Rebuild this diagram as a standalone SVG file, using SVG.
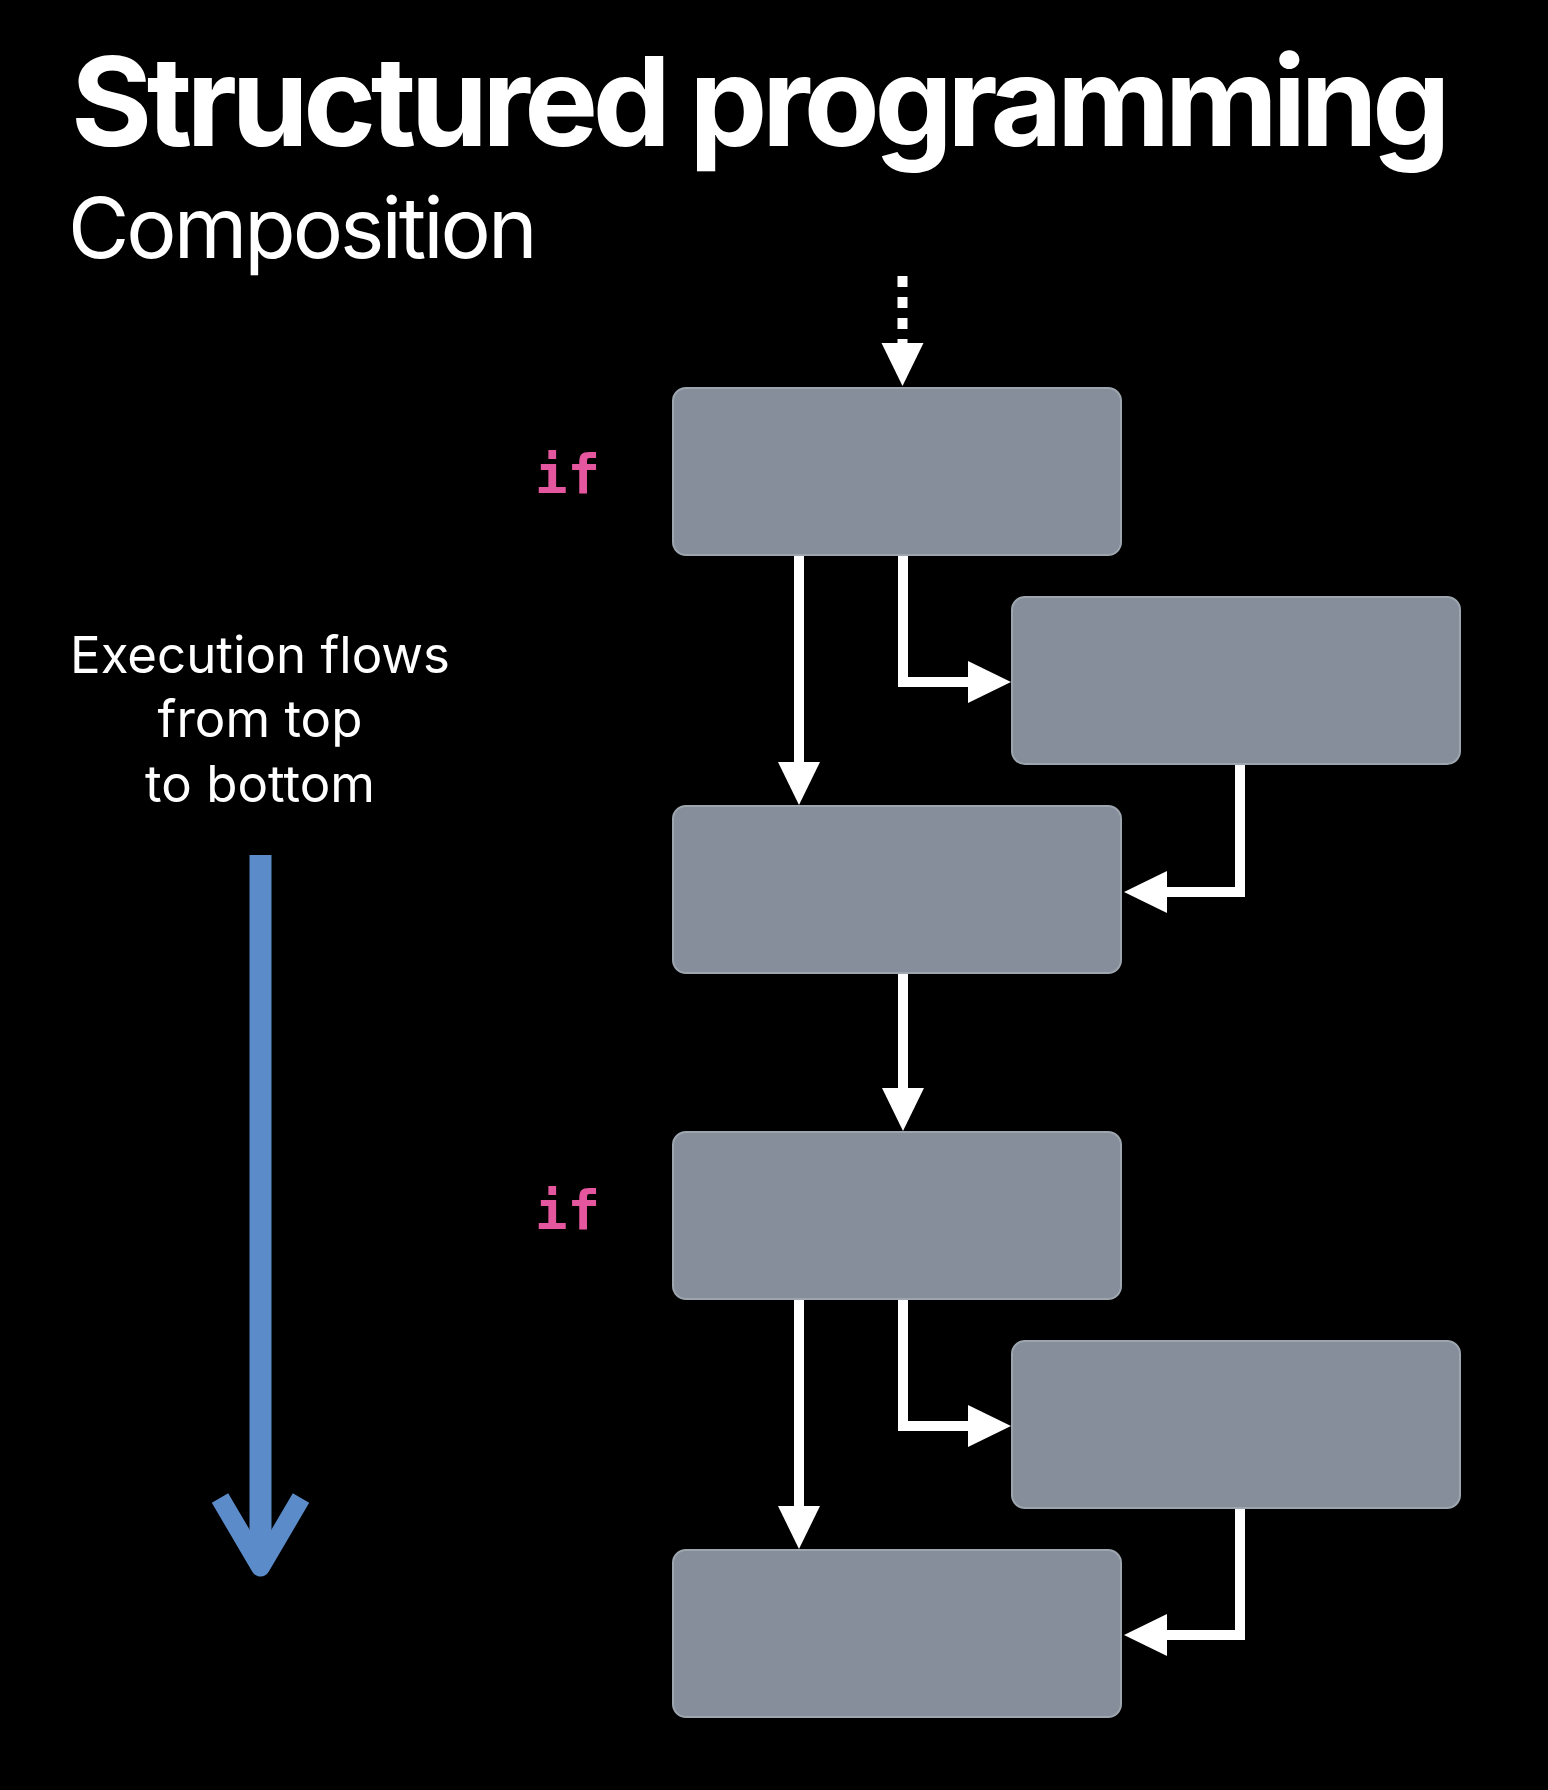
<svg xmlns="http://www.w3.org/2000/svg" width="1548" height="1790" viewBox="0 0 1548 1790">
  <style>
    .box { fill: #858e9a; stroke: #9da5af; stroke-width: 2; }
    .conn { fill: none; stroke: #ffffff; stroke-width: 10; stroke-linejoin: miter; marker-end: url(#arrow); }
    .kw { font-family: "DejaVu Sans Mono", "Liberation Mono", monospace; font-weight: bold; font-size: 54px; fill: #e4579e; }
    .note { font-family: Inter, "Liberation Sans", sans-serif; font-size: 51px; fill: #ffffff; text-anchor: middle; }
  </style>
  <defs>
    <marker id="arrow" markerUnits="userSpaceOnUse" markerWidth="44" markerHeight="44" viewBox="0 0 44 44" refX="22" refY="22" orient="auto">
      <path d="M0,1 L43,22 L0,43 Z" fill="#ffffff"/>
    </marker>
  </defs>
  <rect x="0" y="0" width="1548" height="1790" fill="#000000"/>

  <g id="title">
    <text x="71" y="146" font-family="Inter, 'Liberation Sans', sans-serif" font-weight="bold" font-size="124" fill="#ffffff" letter-spacing="-5.5">Structured programming</text>
    <text x="68" y="258" font-family="Inter, 'Liberation Sans', sans-serif" font-size="84" fill="#ffffff" letter-spacing="-3">Composition</text>
  </g>

  <g id="note">
    <text class="note" x="260" y="673">Execution flows</text>
    <text class="note" x="260" y="737">from top</text>
    <text class="note" x="260" y="802">to bottom</text>
  </g>

  <g id="flow-arrow">
    <line x1="260.5" y1="855" x2="260.5" y2="1560" stroke="#5b8bc8" stroke-width="22"/>
    <polyline points="220,1498 260.5,1567 301,1498" fill="none" stroke="#5b8bc8" stroke-width="19" stroke-linejoin="round" stroke-linecap="butt"/>
  </g>

  <g id="if1"><text class="kw" x="535" y="493">if</text></g>
  <g id="if2"><text class="kw" x="535" y="1229">if</text></g>

  <g id="connectors">
    <path class="conn" d="M902.5,276 V365" stroke-width="11" stroke-dasharray="11 10"/>
    <path class="conn" d="M799,555 V784"/>
    <path class="conn" d="M903,555 V682 H990"/>
    <path class="conn" d="M1240,764 V892 H1145"/>
    <path class="conn" d="M903,973 V1110"/>
    <path class="conn" d="M799,1299 V1528"/>
    <path class="conn" d="M903,1299 V1426 H990"/>
    <path class="conn" d="M1240,1508 V1635 H1145"/>
  </g>

  <g id="box1"><rect class="box" x="673" y="388" width="448" height="167" rx="13"/></g>
  <g id="box2"><rect class="box" x="1012" y="597" width="448" height="167" rx="13"/></g>
  <g id="box3"><rect class="box" x="673" y="806" width="448" height="167" rx="13"/></g>
  <g id="box4"><rect class="box" x="673" y="1132" width="448" height="167" rx="13"/></g>
  <g id="box5"><rect class="box" x="1012" y="1341" width="448" height="167" rx="13"/></g>
  <g id="box6"><rect class="box" x="673" y="1550" width="448" height="167" rx="13"/></g>
</svg>
